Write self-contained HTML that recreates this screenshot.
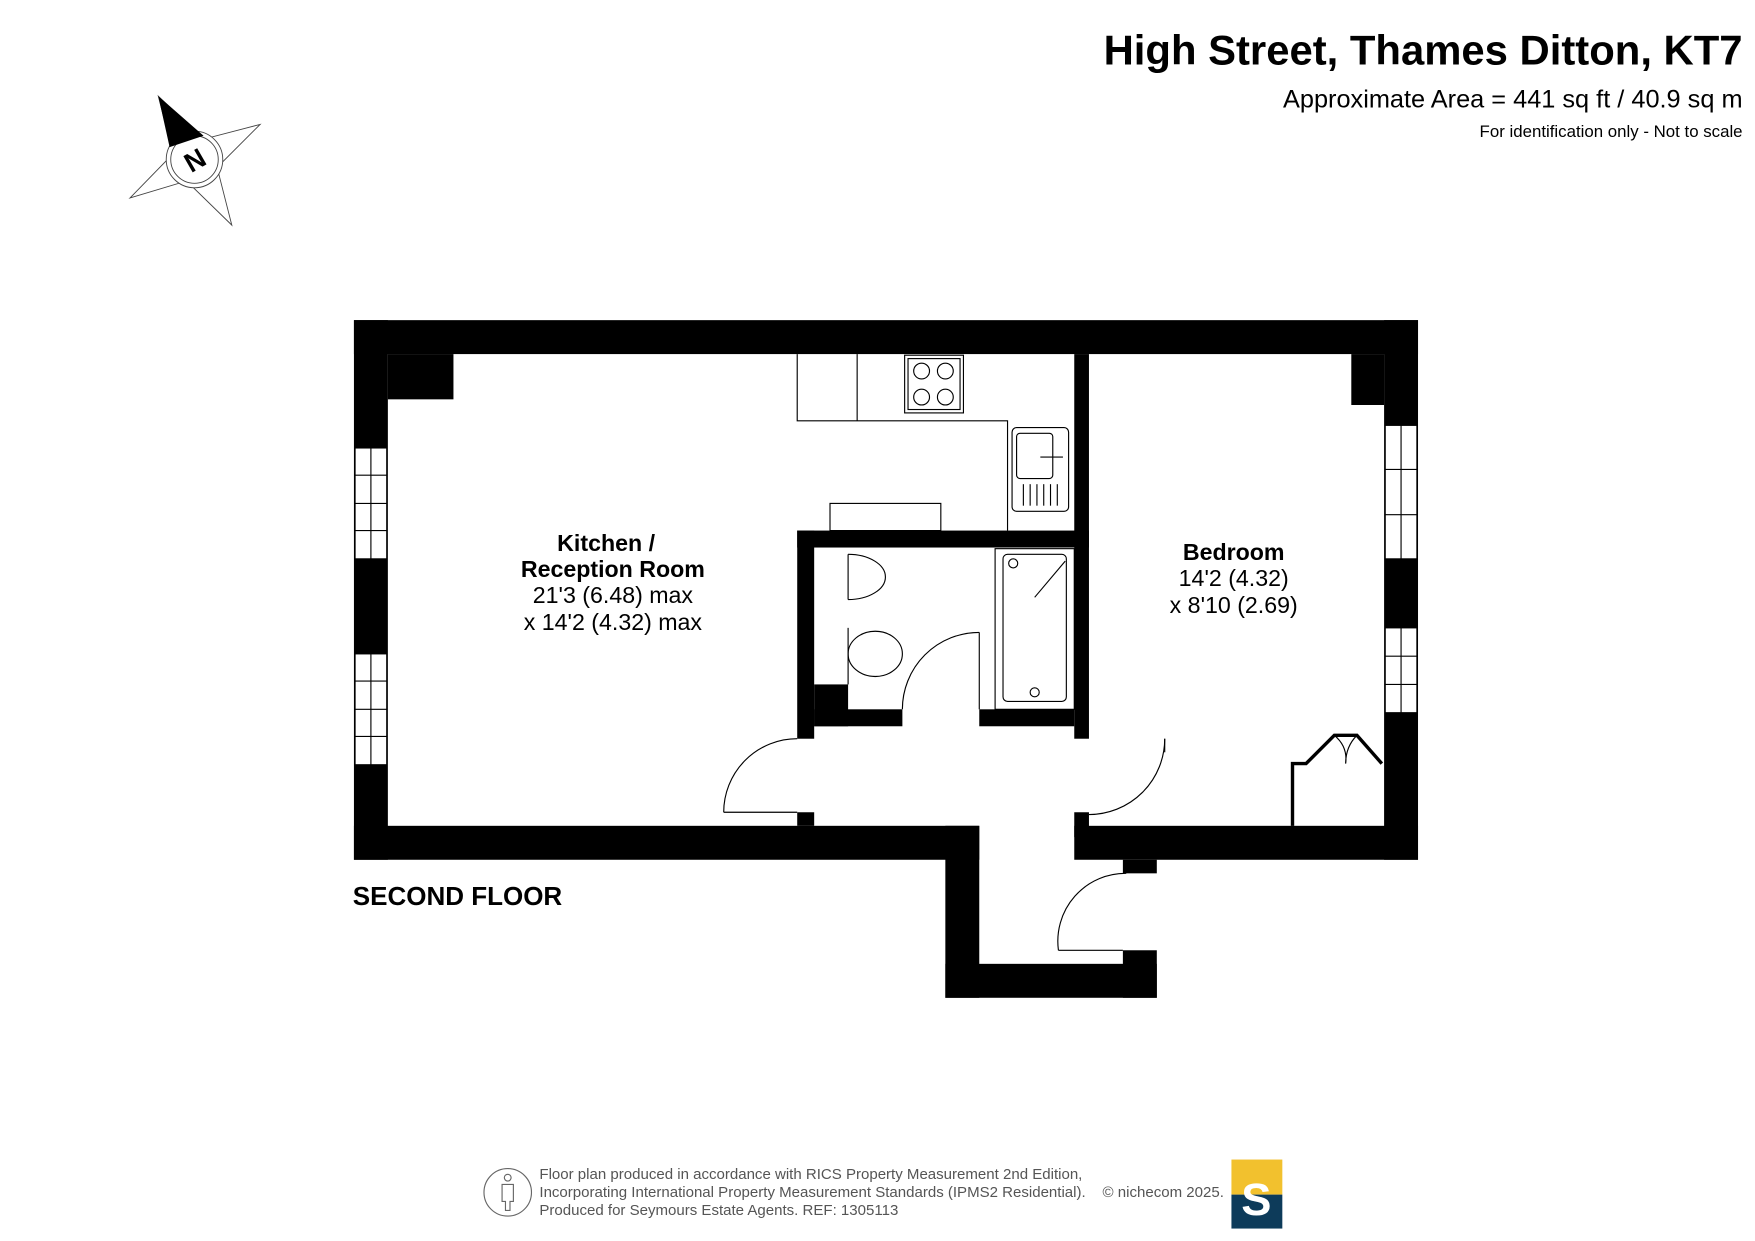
<!DOCTYPE html>
<html><head><meta charset="utf-8"><style>
html,body{margin:0;padding:0;background:#fff;}
svg{display:block;}
text{font-family:"Liberation Sans",Arial,sans-serif;}
</style></head><body>
<svg width="1755" height="1241" viewBox="0 0 1552 1097" preserveAspectRatio="none" xmlns="http://www.w3.org/2000/svg">
<rect width="1552" height="1097" fill="#fff"/>
<!-- title -->
<text x="1541" y="57" text-anchor="end" font-size="37" font-weight="bold">High Street, Thames Ditton, KT7</text>
<text x="1541" y="95" text-anchor="end" font-size="22.4">Approximate Area = 441 sq ft / 40.9 sq m</text>
<text x="1541" y="121" text-anchor="end" font-size="14.9">For identification only - Not to scale</text>
<!-- compass -->
<g stroke="#444" stroke-width="0.8" fill="#fff">
<polygon points="140,85 180,123 230,110 192,148 205,199 165,160 115,175 153,136"/>
<circle cx="172" cy="141" r="25"/>
<circle cx="172" cy="141" r="21"/>
</g>
<polygon points="140,85 180,120 150,130" fill="#000"/>
<text x="172" y="150" font-size="24" font-weight="bold" text-anchor="middle" transform="rotate(-30 172 141)">N</text>
<!-- walls -->
<g fill="#000">
<rect x="313" y="283" width="941" height="30"/>
<rect x="313" y="283" width="30" height="477"/>
<rect x="343" y="313" width="58" height="40"/>
<rect x="313" y="730" width="553" height="30"/>
<rect x="836" y="730" width="30" height="152"/>
<rect x="836" y="852" width="187" height="30"/>
<rect x="993" y="840" width="30" height="42"/>
<rect x="950" y="730" width="304" height="30"/>
<rect x="993" y="760" width="30" height="12"/>
<rect x="950" y="718" width="13" height="22"/>
<rect x="1224" y="283" width="30" height="477"/>
<rect x="1195" y="313" width="29" height="45"/>
<rect x="950" y="313" width="13" height="340"/>
<rect x="705" y="469" width="258" height="15"/>
<rect x="705" y="469" width="15" height="184"/>
<rect x="720" y="605" width="30" height="37"/>
<rect x="720" y="627" width="78" height="15"/>
<rect x="866" y="627" width="84" height="15"/>
<rect x="705" y="718" width="15" height="12"/>
</g>
<!-- windows -->
<g fill="#fff" stroke="#000" stroke-width="1">
<rect x="314" y="396" width="28" height="98"/>
<rect x="314" y="578" width="28" height="98"/>
<rect x="1225" y="376" width="28" height="118"/>
<rect x="1225" y="555" width="28" height="75"/>
</g>
<g stroke="#000" stroke-width="1">
<line x1="328" y1="396" x2="328" y2="494"/><line x1="314" y1="420" x2="342" y2="420"/><line x1="314" y1="445" x2="342" y2="445"/><line x1="314" y1="469" x2="342" y2="469"/>
<line x1="328" y1="578" x2="328" y2="676"/><line x1="314" y1="602" x2="342" y2="602"/><line x1="314" y1="627" x2="342" y2="627"/><line x1="314" y1="651" x2="342" y2="651"/>
<line x1="1239" y1="376" x2="1239" y2="494"/><line x1="1225" y1="415" x2="1253" y2="415"/><line x1="1225" y1="455" x2="1253" y2="455"/>
<line x1="1239" y1="555" x2="1239" y2="630"/><line x1="1225" y1="580" x2="1253" y2="580"/><line x1="1225" y1="605" x2="1253" y2="605"/>
</g>
<!-- kitchen units -->
<g fill="none" stroke="#000" stroke-width="1">
<polyline points="705,313 705,372 891,372 891,469"/>
<line x1="758" y1="313" x2="758" y2="372"/>
<rect x="800" y="314" width="52" height="51"/>
<rect x="803" y="317" width="46" height="45"/>
<circle cx="815" cy="328" r="7"/><circle cx="836" cy="328" r="7"/><circle cx="815" cy="351" r="7"/><circle cx="836" cy="351" r="7"/>
<rect x="895" y="378" width="50" height="74" rx="4"/>
<rect x="899" y="383" width="32" height="40" rx="3"/>
<line x1="905" y1="428" x2="905" y2="447"/><line x1="911" y1="428" x2="911" y2="447"/><line x1="917" y1="428" x2="917" y2="447"/><line x1="923" y1="428" x2="923" y2="447"/><line x1="929" y1="428" x2="929" y2="447"/><line x1="935" y1="428" x2="935" y2="447"/>
<line x1="920" y1="404" x2="940" y2="404"/>
<rect x="734" y="445" width="98" height="24"/>
<!-- bathroom -->
<path d="M750,490 A33,20 0 0 1 750,530" />
<line x1="750" y1="490" x2="750" y2="530"/>
<line x1="750" y1="555" x2="750" y2="605"/>
<ellipse cx="774" cy="578" rx="24" ry="20"/>
<rect x="880" y="485" width="70" height="142"/>
<rect x="887" y="490" width="56" height="130" rx="4"/>
<line x1="942" y1="496" x2="915" y2="528"/>
<circle cx="896" cy="498" r="4"/>
<circle cx="915" cy="612" r="4"/>
<!-- wardrobe -->
<polyline points="1143,730 1143,675 1155,675 1180,650 1200,650 1222,675" stroke-width="3"/>
<path d="M1180,650 Q1192,660 1190,675 Q1190,660 1200,650"/>
<!-- doors -->
<path d="M640,718 A65,65 0 0 1 705,653"/>
<line x1="640" y1="718" x2="705" y2="718"/>
<path d="M866,559 A68,68 0 0 0 798,627"/>
<line x1="866" y1="559" x2="866" y2="627"/>
<path d="M1030,653 A67,67 0 0 1 963,720"/>
<line x1="1030" y1="653" x2="1030" y2="665"/>
<path d="M996,772 A60,60 0 0 0 936,840"/>
<line x1="936" y1="840" x2="993" y2="840"/>
</g>
<!-- labels -->
<g text-anchor="middle" font-size="20.5">
<text x="536" y="487" font-weight="bold">Kitchen /</text>
<text x="542" y="510" font-weight="bold">Reception Room</text>
<text x="542" y="533">21'3 (6.48) max</text>
<text x="542" y="557">x 14'2 (4.32) max</text>
<text x="1091" y="495" font-weight="bold">Bedroom</text>
<text x="1091" y="518">14'2 (4.32)</text>
<text x="1091" y="542">x 8'10 (2.69)</text>
</g>
<text x="312" y="800" font-size="23" font-weight="bold">SECOND FLOOR</text>
<!-- footer -->
<g fill="none" stroke="#666" stroke-width="1">
<circle cx="449" cy="1054" r="21"/>
<circle cx="449" cy="1041" r="3"/>
<path d="M444,1047 L454,1047 L454,1062 L451,1062 L451,1070 L447,1070 L447,1062 L444,1062 Z"/>
</g>
<g font-size="13.3" fill="#555">
<text x="477" y="1042">Floor plan produced in accordance with RICS Property Measurement 2nd Edition,</text>
<text x="477" y="1058">Incorporating International Property Measurement Standards (IPMS2 Residential).</text>
<text x="477" y="1074">Produced for Seymours Estate Agents.   REF: 1305113</text>
<text x="975" y="1058">© nichecom 2025.</text>
</g>
<rect x="1089" y="1025" width="45" height="31" fill="#f2c12e"/>
<rect x="1089" y="1056" width="45" height="30" fill="#0d3b5a"/>
<text x="1111" y="1074" font-family="Liberation Serif,serif" font-size="40" font-weight="bold" fill="#fff" text-anchor="middle">S</text>
</svg>
</body></html>
